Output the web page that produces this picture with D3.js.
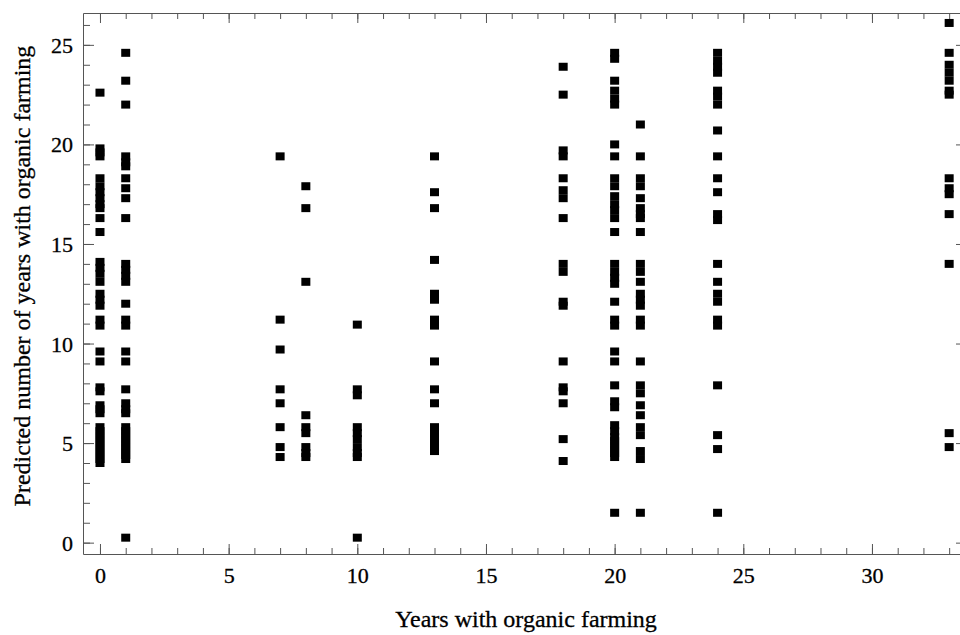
<!DOCTYPE html>
<html>
<head>
<meta charset="utf-8">
<script src="https://cdn.jsdelivr.net/npm/d3@7"></script>
<style>
  body { margin: 0; background: #fff; }
  svg { display: block; }
  .axis text { font-family: "Liberation Serif", "Times New Roman", serif; font-size: 22px; fill: #000; stroke: #000; stroke-width: 0.3px; }
  .axis path, .axis line { stroke: #555; }
  .title { font-family: "Liberation Serif", "Times New Roman", serif; font-size: 24px; fill: #000; stroke: #000; stroke-width: 0.3px; }
</style>
</head>
<body>
<div id="chart"></div>
<script>
const AREA_WIDTH = 960;
const AREA_HEIGHT = 635;
const MARGIN = { TOP: 13, RIGHT: -1, BOTTOM: 81, LEFT: 83 };
const WIDTH = AREA_WIDTH - MARGIN.LEFT - MARGIN.RIGHT;
const HEIGHT = AREA_HEIGHT - MARGIN.TOP - MARGIN.BOTTOM;

// years with organic farming (one column of points per value)
const years = [0, 1, 7, 8, 10, 13, 18, 20, 21, 24, 33];

// predicted years, one array per column
const pred0 = [22.6, 19.8, 19.6, 19.4, 18.3, 17.9, 17.6, 17.3, 17.0, 16.8, 16.3, 15.6,
  14.1, 13.8, 13.5, 13.1, 12.5, 12.2, 11.9, 11.2, 10.9, 9.6, 9.1, 7.8, 7.6,
  6.9, 6.7, 6.5, 5.8, 5.6, 5.4, 5.2, 5.0, 4.8, 4.6, 4.4, 4.2, 4.0];
const pred1 = [24.6, 23.2, 22.0, 19.4, 19.1, 18.9, 18.3, 17.8, 17.3, 16.3,
  14.0, 13.7, 13.4, 13.1, 12.0, 11.2, 10.9, 9.6, 9.1, 7.7, 7.0, 6.7, 6.5,
  5.8, 5.6, 5.4, 5.2, 5.0, 4.8, 4.6, 4.4, 4.2, 0.25];
const pred7 = [19.4, 11.2, 9.7, 7.7, 7.0, 5.8, 4.8, 4.3];
const pred8 = [17.9, 16.8, 13.1, 6.4, 5.8, 5.5, 4.8, 4.5, 4.3];
const pred10 = [10.95, 7.7, 7.4, 5.8, 5.5, 5.2, 4.8, 4.5, 4.3, 0.25];
const pred13 = [19.4, 17.6, 16.8, 14.2, 12.5, 12.2, 11.2, 10.9, 9.1, 7.7, 7.0,
  5.8, 5.5, 5.2, 5.0, 4.8, 4.6];
const pred18 = [23.9, 22.5, 19.7, 19.4, 18.3, 17.7, 17.3, 16.3, 14.0, 13.6,
  12.1, 11.9, 9.1, 7.8, 7.6, 7.0, 5.2, 4.1];
const pred20 = [24.6, 24.3, 23.2, 22.7, 22.3, 22.0, 20.0, 19.4, 18.3, 17.9, 17.4,
  17.0, 16.7, 16.3, 15.6, 14.0, 13.6, 13.3, 13.0, 12.1, 11.2, 10.9, 9.6, 9.1,
  7.9, 7.1, 6.8, 5.9, 5.6, 5.3, 5.1, 4.9, 4.7, 4.5, 4.3, 1.5];
const pred21 = [21.0, 19.4, 18.3, 17.9, 17.3, 16.8, 16.5, 16.3, 15.6, 14.0, 13.6,
  13.1, 12.5, 12.2, 11.9, 11.2, 10.9, 9.1, 7.9, 7.5, 6.9, 6.4, 5.8, 5.4, 4.6,
  4.2, 1.5];
const pred24 = [24.6, 24.2, 23.9, 23.6, 22.7, 22.4, 22.0, 20.7, 19.4, 18.3, 17.6,
  16.5, 16.2, 14.0, 13.1, 12.5, 12.1, 11.2, 10.9, 7.9, 5.4, 4.7, 1.5];
const pred33 = [26.1, 24.6, 24.0, 23.6, 23.2, 22.7, 22.5, 18.3, 17.8, 17.5, 16.5,
  14.0, 5.5, 4.8];

const columns = [pred0, pred1, pred7, pred8, pred10, pred13, pred18, pred20, pred21, pred24, pred33];

const xMajor = [0, 5, 10, 15, 20, 25, 30];
const yMajor = [0, 5, 10, 15, 20, 25];

const points = [];
years.forEach((yr, i) => columns[i].forEach(v => points.push({ x: yr, y: v })));

const root = d3.select('#chart')
  .append('svg')
  .attr('width', AREA_WIDTH)
  .attr('height', AREA_HEIGHT);

const svg = root.append('g')
  .attr('transform', `translate(${MARGIN.LEFT},${MARGIN.TOP})`);

const x = d3.scaleLinear()
  .domain([-0.66, 33.46])
  .range([0, WIDTH]);

const y = d3.scaleLinear()
  .domain([-0.57, 26.6])
  .range([HEIGHT, 0]);

const xMinor = d3.range(0, 34);
const yMinor = d3.range(0, 27);

// bottom axis: minor then major ticks, pointing inward
svg.append('g')
  .attr('class', 'axis')
  .attr('transform', `translate(0, ${HEIGHT})`)
  .call(d3.axisBottom(x).tickValues(xMinor).tickSizeInner(-6).tickSizeOuter(0).tickFormat(''));
svg.append('g')
  .attr('class', 'axis')
  .attr('transform', `translate(0, ${HEIGHT})`)
  .call(d3.axisBottom(x).tickValues(xMajor).tickSizeInner(-10).tickSizeOuter(0).tickPadding(21))
  .call(g => g.select('.domain').remove());

// top axis
svg.append('g')
  .attr('class', 'axis')
  .call(d3.axisTop(x).tickValues(xMinor).tickSizeInner(-6).tickSizeOuter(0).tickFormat(''));
svg.append('g')
  .attr('class', 'axis')
  .call(d3.axisTop(x).tickValues(xMajor).tickSizeInner(-10).tickSizeOuter(0).tickFormat(''))
  .call(g => g.select('.domain').remove());

// left axis
svg.append('g')
  .attr('class', 'axis')
  .call(d3.axisLeft(y).tickValues(yMinor).tickSizeInner(-7).tickSizeOuter(0).tickFormat(''));
svg.append('g')
  .attr('class', 'axis')
  .call(d3.axisLeft(y).tickValues(yMajor).tickSizeInner(-11).tickSizeOuter(0).tickPadding(10))
  .call(g => g.select('.domain').remove());

// right axis, major only
svg.append('g')
  .attr('class', 'axis')
  .attr('transform', `translate(${WIDTH}, 0)`)
  .call(d3.axisRight(y).tickValues(yMajor).tickSizeInner(-5).tickSizeOuter(0).tickFormat(''));

svg.selectAll('.axis .tick text')
  .attr('dy', null)
  .attr('dominant-baseline', 'central');

// points
const SQ_W = 9;
const SQ_H = 8;
svg.selectAll('rect.pt')
  .data(points)
  .enter()
  .append('rect')
  .attr('class', 'pt')
  .attr('x', d => x(d.x) - SQ_W / 2)
  .attr('y', d => y(d.y) - SQ_H / 2)
  .attr('width', SQ_W)
  .attr('height', SQ_H)
  .attr('fill', '#000');

// axis titles
root.append('text')
  .attr('class', 'title')
  .attr('x', 526)
  .attr('y', 627)
  .style('text-anchor', 'middle')
  .text('Years with organic farming');

root.append('text')
  .attr('class', 'title')
  .attr('transform', 'translate(30, 276) rotate(-90)')
  .style('text-anchor', 'middle')
  .text('Predicted number of years with organic farming');
</script>
</body>
</html>
